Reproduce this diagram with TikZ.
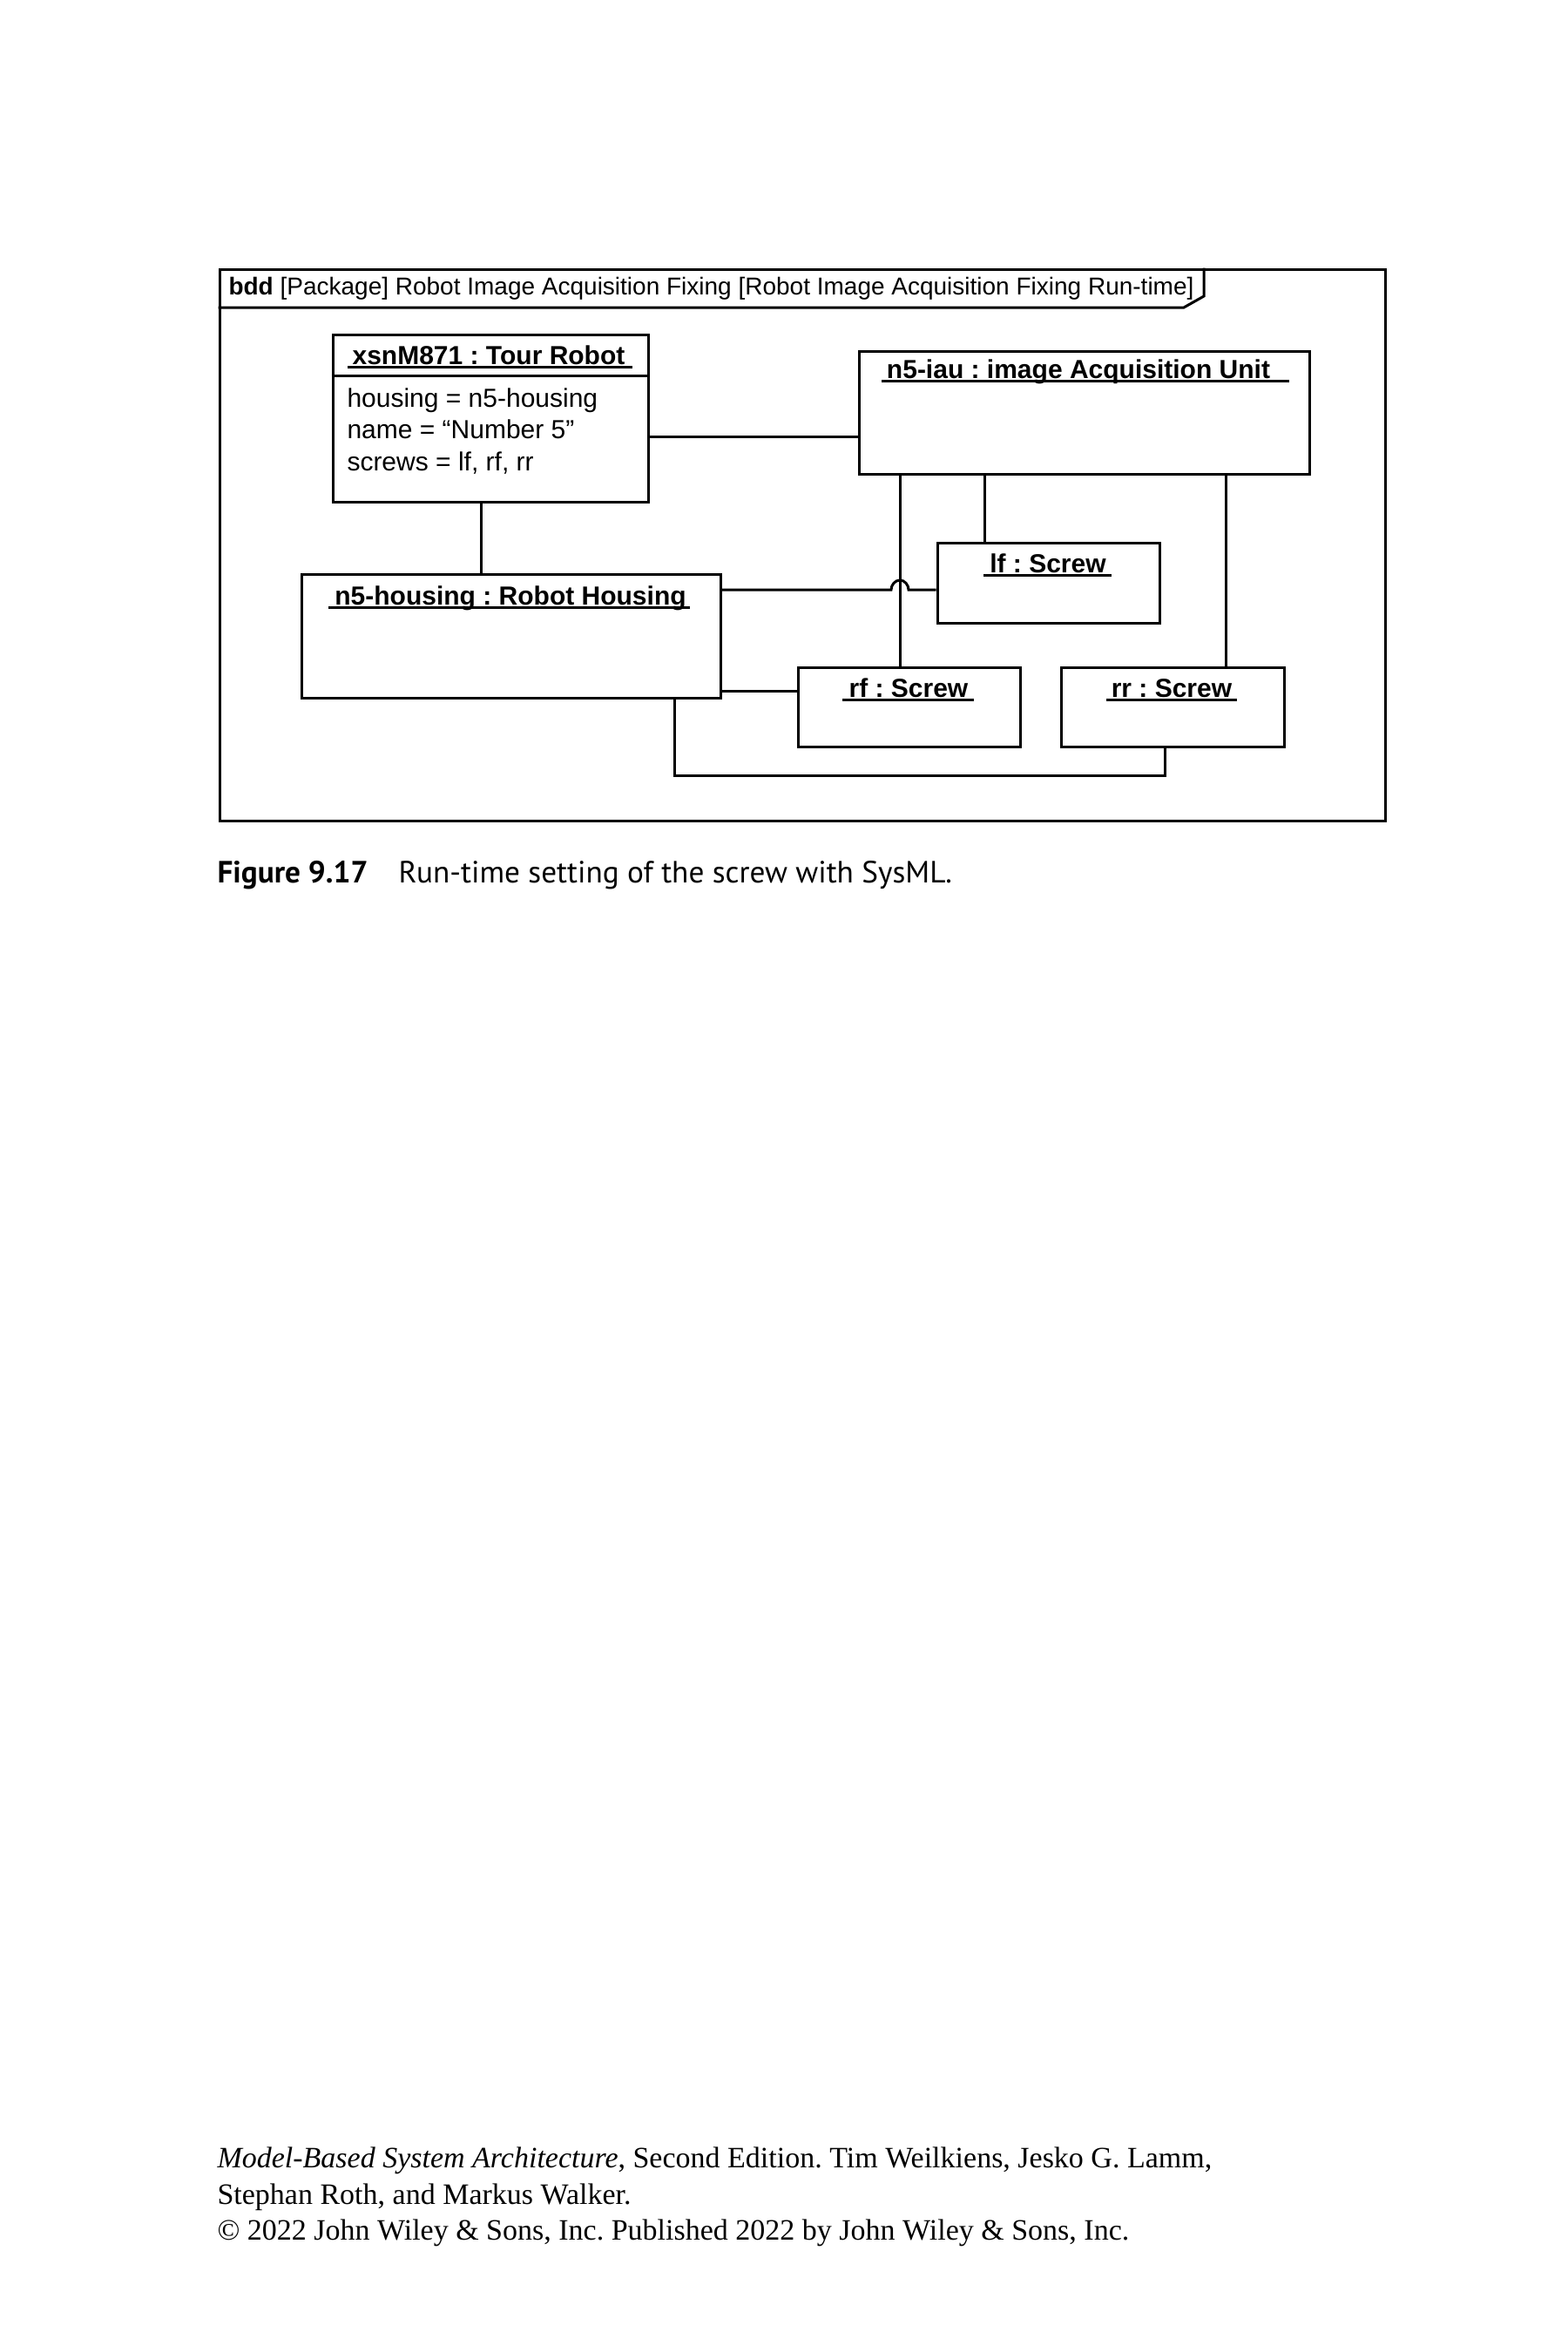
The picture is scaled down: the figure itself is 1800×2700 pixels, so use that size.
\documentclass[tikz,border=0pt]{standalone}
\usepackage{fontspec}
\setmainfont{Liberation Sans}
\newfontfamily\capfont{PT Sans}
\newfontfamily\footfont{Liberation Serif}
\usetikzlibrary{calc}
\frenchspacing
\tikzset{
  conn/.style={line width=1.2pt, line join=miter},
  obj/.style n args={2}{draw, line width=1.2pt, rectangle, inner sep=0pt,
    minimum width=#1*0.4pt, minimum height=#2*0.4pt},
  ttl/.style={inner sep=0pt, anchor=base, font=\bfseries\fontsize{12}{14}\selectfont},
  attr/.style={inner sep=0pt, anchor=base west, font=\fontsize{12}{14}\selectfont},
  uline/.style={line width=0.95pt},
  foot/.style={inner sep=0pt, anchor=base west, font=\footfont\fontsize{13.6}{16}\selectfont},
  capt/.style={inner sep=0pt, anchor=base west, font=\capfont\fontsize{14.1}{16}\selectfont},
}
\begin{document}
\begin{tikzpicture}[x=0.4pt,y=-0.4pt]
\useasboundingbox (0,0) rectangle (1800,2700);
\fill[white] (0,0) rectangle (1800,2700);

% frame
\node[obj={1338}{633}] (frame) at (921,625.5) {};
\coordinate (tabb) at (0,353);
\coordinate (tabx) at (1382,0);
\draw[conn] (frame.west |- tabb) -- (1359,353) -- (1382,340) -- (frame.north -| tabx);
\node[inner sep=0pt, anchor=base west, font=\fontsize{11.2}{13}\selectfont] (ftitle) at (262,338)
  {\textbf{bdd} [Package] Robot Image Acquisition Fixing [Robot Image Acquisition Fixing Run-time]};

% Tour Robot
\node[obj={362}{192}] (tour) at (563,480) {};
\node[ttl] (tourt) at (561,418) {xsnM871 : Tour Robot};
\draw[uline] ($(tourt.base west)+(-5,3.5)$) -- ($(tourt.base east)+(8,3.5)$);
\coordinate (sep) at (0,431);
\draw[conn] (tour.west |- sep) -- (tour.east |- sep);
\node[attr] (a1) at (398,467) {housing = n5-housing};
\node[attr] (a2) at (398,503) {name = “Number 5”};
\node[attr] (a3) at (398,540) {screws = lf, rf, rr};

% image acquisition unit
\node[obj={517}{141}] (iau) at (1244.5,473.5) {};
\node[ttl] (iaut) at (1238,434) {n5-iau : image Acquisition Unit};
\draw[uline] ($(iaut.base west)+(-5,3.5)$) -- ($(iaut.base east)+(21,3.5)$);

% housing
\node[obj={481}{142}] (hous) at (586.5,730) {};
\node[ttl] (houst) at (586,694) {n5-housing : Robot Housing};
\draw[uline] ($(houst.base west)+(-7,3.5)$) -- ($(houst.base east)+(4,3.5)$);

% screws
\node[obj={255}{92}] (lf) at (1203.5,669) {};
\node[ttl] (lft) at (1203,657) {lf : Screw};
\draw[uline] ($(lft.base west)+(-7,3.5)$) -- ($(lft.base east)+(6,3.5)$);

\node[obj={255}{91}] (rf) at (1043.5,811.5) {};
\node[ttl] (rft) at (1043,800) {rf : Screw};
\draw[uline] ($(rft.base west)+(-7,3.5)$) -- ($(rft.base east)+(6,3.5)$);

\node[obj={256}{91}] (rr) at (1346,811.5) {};
\node[ttl] (rrt) at (1345,800) {rr : Screw};
\draw[uline] ($(rrt.base west)+(-5,3.5)$) -- ($(rrt.base east)+(5,3.5)$);

% connectors
\coordinate (yA) at (0,501);
\draw[conn] (tour.east |- yA) -- (iau.west |- yA);
\coordinate (xB) at (552,0);
\draw[conn] (tour.south -| xB) -- (hous.north -| xB);
\coordinate (yC) at (0,677);
\draw[conn] (hous.east |- yC) -- (1023,677)
  .. controls (1023,671.5) and (1027.5,666) .. (1033,666)
  .. controls (1038.5,666) and (1043,671.5) .. (1043,677) -- (lf.west |- yC);
\coordinate (yD) at (0,793);
\draw[conn] (hous.east |- yD) -- (rf.west |- yD);
\coordinate (xE) at (774,0);
\coordinate (yE) at (0,890);
\coordinate (xF) at (1337,0);
\draw[conn] (hous.south -| xE) -- (xE |- yE) -- (xF |- yE) -- (rr.south -| xF);
\coordinate (jx) at (1033,0);
\draw[conn] (iau.south -| jx) -- (rf.north -| jx);
\coordinate (xG) at (1130,0);
\draw[conn] (iau.south -| xG) -- (lf.north -| xG);
\coordinate (xH) at (1407,0);
\draw[conn] (iau.south -| xH) -- (rr.north -| xH);

% caption
\node[capt, font=\capfont\bfseries\fontsize{14.1}{16}\selectfont] (figlbl) at (249,1013) {Figure 9.17};
\node[capt] (figcap) at (457,1013) {Run-time setting of the screw with SysML.};

% footer
\node[foot] (f1) at (249,2488) {\textit{Model-Based System Architecture}, Second Edition. Tim Weilkiens, Jesko G. Lamm,};
\node[foot] (f2) at (249,2530) {Stephan Roth, and Markus Walker.};
\node[foot] (f3) at (249,2571) {© 2022 John Wiley \& Sons, Inc. Published 2022 by John Wiley \& Sons, Inc.};
\end{tikzpicture}
\end{document}
